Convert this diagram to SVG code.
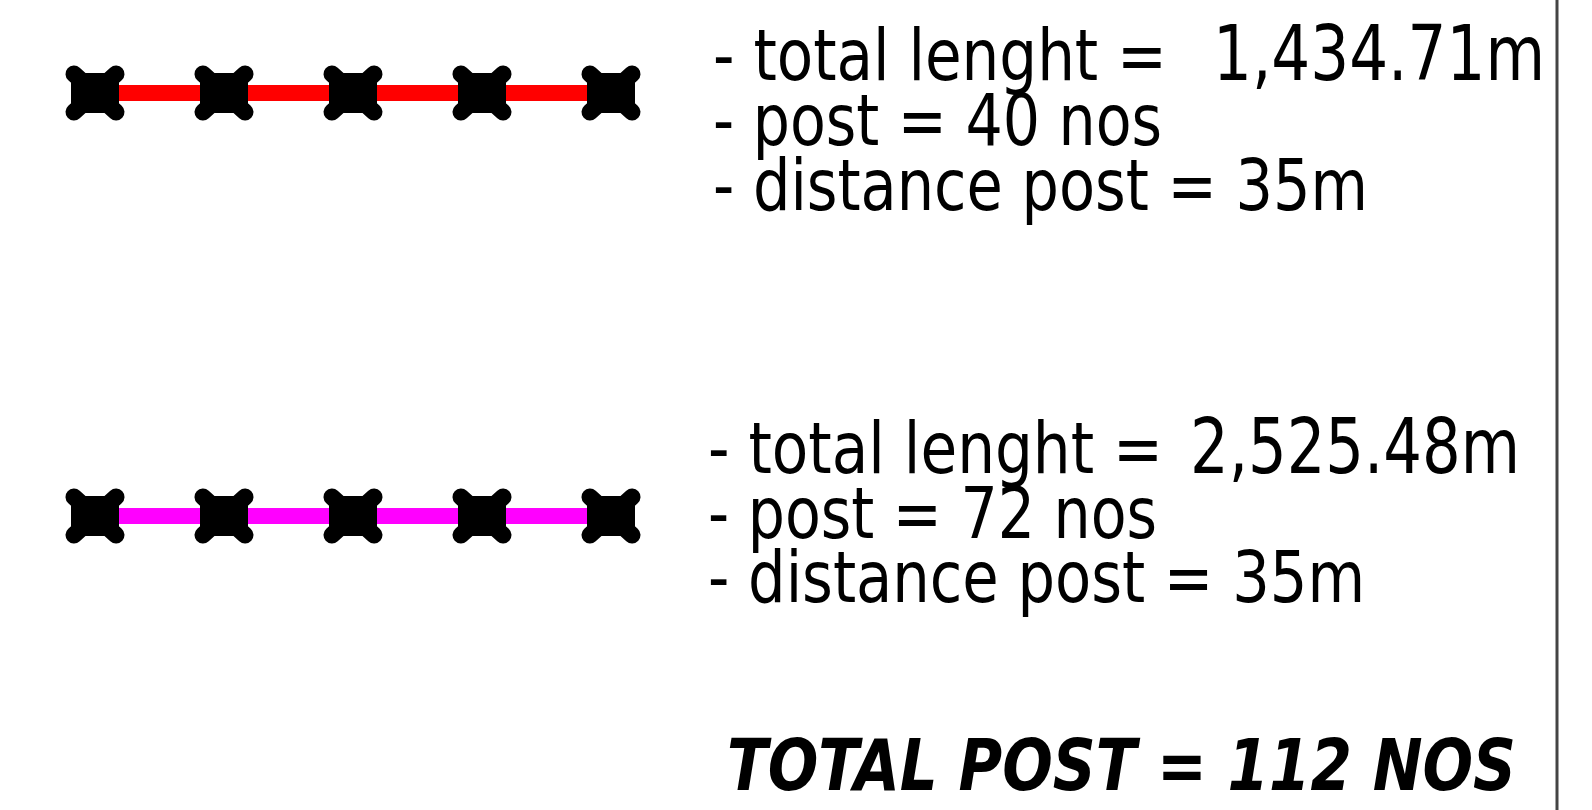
<svg xmlns="http://www.w3.org/2000/svg" xmlns:xlink="http://www.w3.org/1999/xlink" width="1592" height="810" viewBox="0 0 1592 810">
<style>
.t{font-family:"DejaVu Sans Condensed","DejaVu Sans",sans-serif;font-size:72px;fill:#000}
.n{font-size:77px}
.tot{font-family:"DejaVu Sans Condensed","DejaVu Sans",sans-serif;font-size:72px;font-weight:bold;font-style:italic;fill:#000}
</style>
<defs>
<g id="post">
<rect x="-24" y="-20" width="48" height="40" rx="5" fill="#000"/>
<path d="M-21,-19L21,19M-21,19L21,-19" stroke="#000" stroke-width="17" stroke-linecap="round"/>
</g>
</defs>
<rect width="1592" height="810" fill="#fff"/>
<g id="connectors">
<line x1="95" y1="93" x2="611" y2="93" stroke="#ff0000" stroke-width="16"/>
<line x1="95" y1="516" x2="611" y2="516" stroke="#ff00ff" stroke-width="16"/>
</g>
<g id="fence1">
<use xlink:href="#post" x="95" y="93"/>
<use xlink:href="#post" x="224" y="93"/>
<use xlink:href="#post" x="353" y="93"/>
<use xlink:href="#post" x="482" y="93"/>
<use xlink:href="#post" x="611" y="93"/>
</g>
<g id="fence2">
<use xlink:href="#post" x="95" y="516"/>
<use xlink:href="#post" x="224" y="516"/>
<use xlink:href="#post" x="353" y="516"/>
<use xlink:href="#post" x="482" y="516"/>
<use xlink:href="#post" x="611" y="516"/>
</g>
<g id="label1">
<text class="t" x="713" y="80" textLength="454" lengthAdjust="spacingAndGlyphs">- total lenght =</text>
<text class="t n" x="1213" y="80" textLength="332" lengthAdjust="spacingAndGlyphs">1,434.71m</text>
<text class="t" x="713" y="145" textLength="449" lengthAdjust="spacingAndGlyphs">- post = 40 nos</text>
<text class="t" x="713" y="210" textLength="655" lengthAdjust="spacingAndGlyphs">- distance post = 35m</text>
</g>
<g id="label2">
<text class="t" x="708" y="473" textLength="455" lengthAdjust="spacingAndGlyphs">- total lenght =</text>
<text class="t n" x="1190" y="473" textLength="330" lengthAdjust="spacingAndGlyphs">2,525.48m</text>
<text class="t" x="708" y="538" textLength="449" lengthAdjust="spacingAndGlyphs">- post = 72 nos</text>
<text class="t" x="708" y="602" textLength="657" lengthAdjust="spacingAndGlyphs">- distance post = 35m</text>
</g>
<g id="total">
<text class="tot" x="727" y="790" textLength="789" lengthAdjust="spacingAndGlyphs">TOTAL POST = 112 NOS</text>
</g>
<line x1="1557" y1="0" x2="1557" y2="810" stroke="#444" stroke-width="3"/>
</svg>
